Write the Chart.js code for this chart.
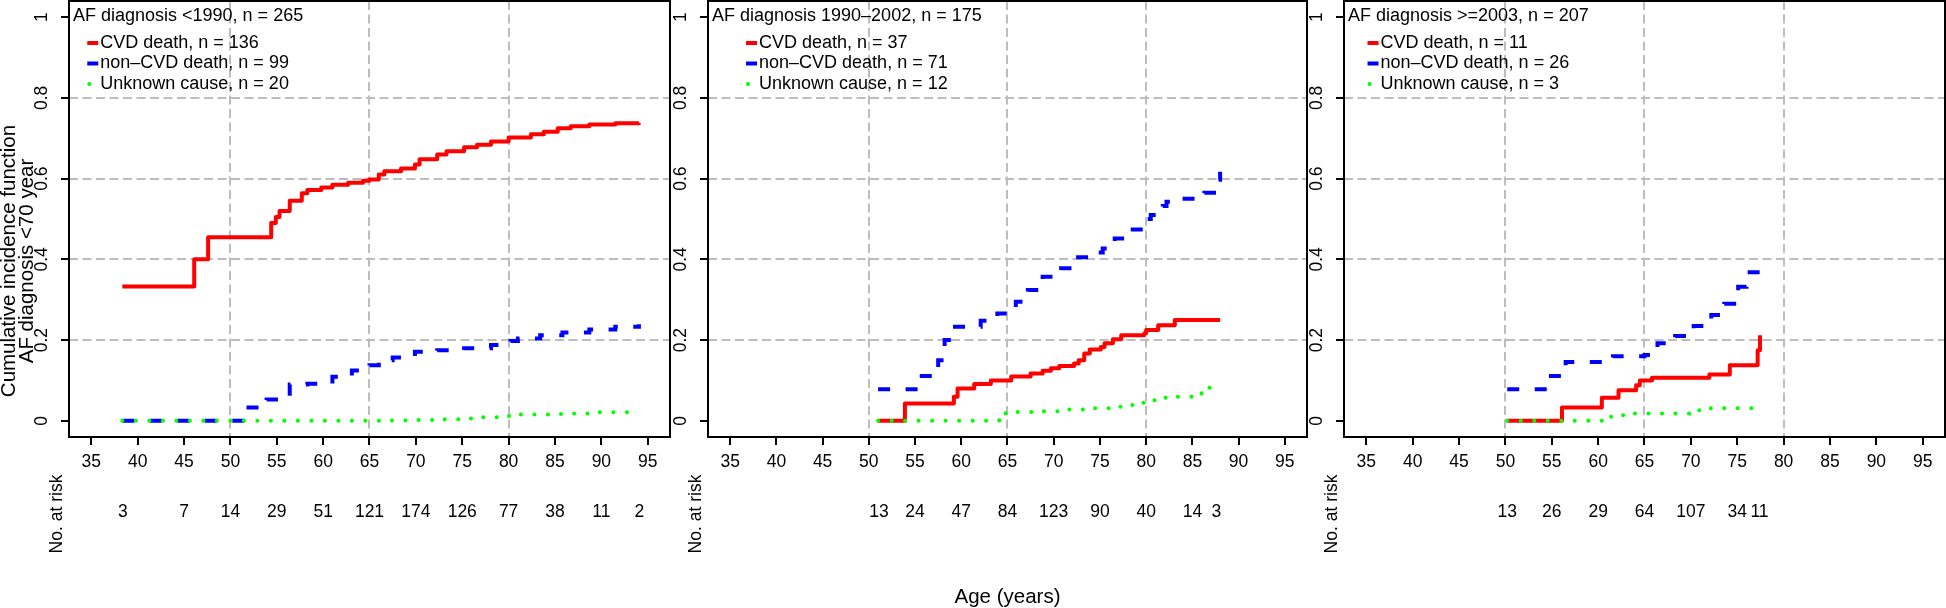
<!DOCTYPE html>
<html>
<head>
<meta charset="utf-8">
<script src="https://cdn.jsdelivr.net/npm/chart.js@4.4.0/dist/chart.umd.min.js"></script>
<style>
  body { margin: 0; background: #fff; width: 1946px; height: 608px; overflow: hidden; position: relative; }
  .panel { position: absolute; top: 0; height: 608px; }
  canvas { display: block; }
</style>
</head>
<body>
<div class="panel" style="left:0px;width:671px"><canvas id="c0" width="671" height="608"></canvas></div>
<div class="panel" style="left:672px;width:636px"><canvas id="c1" width="636" height="608"></canvas></div>
<div class="panel" style="left:1309px;width:637px"><canvas id="c2" width="637" height="608"></canvas></div>
<script>
const FONT = '"Liberation Sans", Arial, Helvetica, sans-serif';
const GRID = '#bdbdbd';

// axes
const xTicks = [35, 40, 45, 50, 55, 60, 65, 70, 75, 80, 85, 90, 95];
const yTicks = [0, 0.2, 0.4, 0.6, 0.8, 1];
const yTickLabels = ['0', '0.2', '0.4', '0.6', '0.8', '1'];
const gridAges = [50, 65, 80];

// texts
const panelTitles = ['AF diagnosis <1990, n = 265', 'AF diagnosis 1990\u20132002, n = 175', 'AF diagnosis >=2003, n = 207'];
const cvdLabels = ['CVD death, n = 136', 'CVD death, n = 37', 'CVD death, n = 11'];
const nonCvdLabels = ['non\u2013CVD death, n = 99', 'non\u2013CVD death, n = 71', 'non\u2013CVD death, n = 26'];
const unknownLabels = ['Unknown cause, n = 20', 'Unknown cause, n = 12', 'Unknown cause, n = 3'];

// panel 1: AF diagnosis <1990
const p1CvdAge = [38.35, 46.1, 47.6, 54.4, 54.9, 55.3, 56.4, 57.7, 58.3, 59.8, 61.0, 62.7, 64.3, 65.0, 66.0, 66.6, 68.4, 69.9, 70.4, 72.3, 73.3, 75.2, 76.6, 78.1, 80.0, 82.4, 83.8, 85.3, 86.7, 88.7, 91.5, 94.05];
const p1Cvd = [0.333, 0.40, 0.455, 0.49, 0.505, 0.52, 0.545, 0.564, 0.572, 0.578, 0.585, 0.59, 0.595, 0.598, 0.61, 0.618, 0.625, 0.635, 0.648, 0.66, 0.668, 0.678, 0.684, 0.692, 0.702, 0.71, 0.716, 0.725, 0.73, 0.734, 0.737, 0.738];
const p1NonAge = [38.35, 51.7, 53.9, 56.4, 58.3, 61.0, 63.1, 65.0, 66.0, 67.5, 69.9, 72.3, 75.2, 78.1, 80.2, 81.0, 83.4, 85.8, 88.7, 91.5, 94.05];
const p1Non = [0, 0.033, 0.053, 0.09, 0.092, 0.109, 0.125, 0.138, 0.15, 0.157, 0.171, 0.175, 0.18, 0.188, 0.198, 0.204, 0.212, 0.219, 0.226, 0.233, 0.239];
const p1UnkAge = [38.35, 65.0, 67.0, 70.0, 72.5, 75.0, 77.0, 79.3, 80.5, 85.0, 87.0, 89.5, 94.05];
const p1Unk = [0, 0, 0.001, 0.002, 0.004, 0.006, 0.009, 0.012, 0.016, 0.017, 0.018, 0.021, 0.021];
const p1RiskAge = [38.4, 45, 50, 55, 60, 65, 70, 75, 80, 85, 90, 94.1];
const p1Risk = [3, 7, 14, 29, 51, 121, 174, 126, 77, 38, 11, 2];

// panel 2: AF diagnosis 1990-2002
const p2CvdAge = [51.0, 53.9, 59.2, 59.6, 61.4, 63.2, 65.4, 67.5, 68.8, 69.7, 70.6, 72.2, 72.7, 73.3, 73.9, 75.1, 75.5, 76.4, 77.3, 79.8, 80.0, 81.3, 83.1, 88.0];
const p2Cvd = [0, 0.043, 0.06, 0.08, 0.091, 0.10, 0.11, 0.117, 0.124, 0.13, 0.136, 0.142, 0.15, 0.167, 0.177, 0.183, 0.192, 0.202, 0.212, 0.217, 0.225, 0.237, 0.25, 0.25];
const p2NonAge = [51.0, 55.3, 57.5, 58.2, 59.0, 62.1, 63.9, 65.2, 65.9, 67.2, 68.8, 70.8, 72.4, 74.8, 75.3, 76.6, 78.2, 80.0, 80.5, 81.8, 82.2, 83.6, 86.3, 87.7, 88.0];
const p2Non = [0.078, 0.111, 0.15, 0.2, 0.233, 0.248, 0.266, 0.274, 0.295, 0.324, 0.357, 0.378, 0.405, 0.417, 0.427, 0.452, 0.474, 0.5, 0.51, 0.532, 0.543, 0.55, 0.565, 0.597, 0.617];
const p2UnkAge = [51.0, 63.0, 64.1, 64.8, 67.9, 70.6, 73.3, 76.0, 77.6, 78.9, 80.0, 81.3, 82.7, 85.2, 86.0, 87.5];
const p2Unk = [0, 0, 0.01, 0.022, 0.024, 0.028, 0.031, 0.035, 0.039, 0.045, 0.051, 0.057, 0.06, 0.068, 0.082, 0.084];
const p2RiskAge = [51.1, 55, 60, 65, 70, 75, 80, 85, 87.6];
const p2Risk = [13, 24, 47, 84, 123, 90, 40, 14, 3];

// panel 3: AF diagnosis >=2003
const p3CvdAge = [50.2, 56.1, 60.4, 62.2, 64.1, 64.5, 65.8, 72.0, 74.2, 77.2, 77.45];
const p3Cvd = [0, 0.033, 0.057, 0.076, 0.088, 0.10, 0.107, 0.115, 0.138, 0.175, 0.212];
const p3NonAge = [50.2, 54.6, 56.5, 61.6, 65.0, 66.4, 68.3, 70.3, 72.2, 73.6, 75.1, 76.0, 77.45];
const p3Non = [0.078, 0.111, 0.146, 0.16, 0.163, 0.192, 0.21, 0.235, 0.262, 0.29, 0.332, 0.368, 0.368];
const p3UnkAge = [50.2, 60.7, 61.4, 62.8, 69.8, 70.9, 77.2];
const p3Unk = [0, 0, 0.014, 0.018, 0.026, 0.031, 0.031];
const p3RiskAge = [50.2, 55, 60, 65, 70, 75, 77.4];
const p3Risk = [13, 26, 29, 64, 107, 34, 11];

const panels = [
  { cvd: [p1CvdAge, p1Cvd], non: [p1NonAge, p1Non], unk: [p1UnkAge, p1Unk], risk: [p1RiskAge, p1Risk], leftSpace: 69 },
  { cvd: [p2CvdAge, p2Cvd], non: [p2NonAge, p2Non], unk: [p2UnkAge, p2Unk], risk: [p2RiskAge, p2Risk], leftSpace: 36 },
  { cvd: [p3CvdAge, p3Cvd], non: [p3NonAge, p3Non], unk: [p3UnkAge, p3Unk], risk: [p3RiskAge, p3Risk], leftSpace: 35 }
];

const pts = (ages, vals) => ages.map((a, i) => ({ x: a, y: vals[i] }));

// box, legend, titles and risk table
const decor = {
  id: 'decor',
  afterDraw(chart, args, opts) {
    const ctx = chart.ctx, a = chart.chartArea, xs = chart.scales.x;
    const i = opts.panel;
    ctx.save();
    ctx.strokeStyle = '#000';
    ctx.lineWidth = 2;
    ctx.strokeRect(a.left, a.top, a.right - a.left, a.bottom - a.top);

    ctx.fillStyle = '#000';
    ctx.textBaseline = 'middle';
    ctx.font = '18px ' + FONT;
    ctx.textAlign = 'left';
    const tx = a.left + 4;
    ctx.fillText(panelTitles[i], tx, 16);

    // legend, centred under the title
    const labels = [cvdLabels[i], nonCvdLabels[i], unknownLabels[i]];
    const tw = ctx.measureText(panelTitles[i]).width;
    const lw = Math.max(...labels.map(l => ctx.measureText(l).width));
    const bx = tx + (tw - (lw + 13)) / 2;
    const rows = [43, 63.5, 84];
    ctx.lineCap = 'butt';
    ctx.lineWidth = 4;
    ctx.strokeStyle = '#ff0000';
    ctx.beginPath(); ctx.moveTo(bx, rows[0]); ctx.lineTo(bx + 11, rows[0]); ctx.stroke();
    ctx.strokeStyle = '#0000ff';
    ctx.beginPath(); ctx.moveTo(bx, rows[1]); ctx.lineTo(bx + 11, rows[1]); ctx.stroke();
    ctx.fillStyle = '#00ff00';
    ctx.beginPath(); ctx.arc(bx + 2, rows[2], 2, 0, Math.PI * 2); ctx.fill();
    ctx.fillStyle = '#000';
    labels.forEach((l, k) => ctx.fillText(l, bx + 13, rows[k]));

    // numbers at risk
    ctx.font = '17.5px ' + FONT;
    ctx.textAlign = 'center';
    const [rAge, rN] = panels[i].risk;
    rAge.forEach((ag, k) => ctx.fillText(String(rN[k]), xs.getPixelForValue(ag), 512));

    ctx.save();
    ctx.translate(a.left - 12, 514);
    ctx.rotate(-Math.PI / 2);
    ctx.fillText('No. at risk', 0, 0);
    ctx.restore();

    ctx.font = '20.5px ' + FONT;
    if (i === 0) {
      ctx.save();
      ctx.translate(9, 261);
      ctx.rotate(-Math.PI / 2);
      ctx.fillText('Cumulative incidence function', 0, 0);
      ctx.restore();
      ctx.save();
      ctx.translate(27, 261);
      ctx.rotate(-Math.PI / 2);
      ctx.fillText('AF diagnosis <70 year', 0, 0);
      ctx.restore();
    }
    if (i === 1) {
      ctx.fillText('Age (years)', (a.left + a.right) / 2, 597);
    }
    ctx.restore();
  }
};

panels.forEach((p, i) => {
  new Chart(document.getElementById('c' + i), {
    type: 'line',
    data: {
      datasets: [
        { data: pts(...p.cvd), borderColor: '#ff0000', borderWidth: 4, stepped: 'before', pointRadius: 0, fill: false, borderJoinStyle: 'round', order: 3 },
        { data: pts(...p.non), borderColor: '#0000ff', borderWidth: 4, stepped: 'before', pointRadius: 0, fill: false, borderDash: [12, 15.5], borderCapStyle: 'butt', order: 2 },
        { data: pts(...p.unk), borderColor: '#00ff00', borderWidth: 4, stepped: 'before', pointRadius: 0, fill: false, borderDash: [0.1, 13.4], borderCapStyle: 'round', order: 1 }
      ]
    },
    options: {
      responsive: false,
      animation: false,
      events: [],
      layout: { padding: { top: 1, right: 1, left: 0, bottom: 0 } },
      plugins: { legend: { display: false }, tooltip: { enabled: false }, decor: { panel: i } },
      scales: {
        x: {
          type: 'linear', min: 32.6, max: 97.4,
          afterBuildTicks: s => { s.ticks = xTicks.map(v => ({ value: v })); },
          afterFit: s => { s.height = 171; s.paddingLeft = 0; s.paddingRight = 0; },
          grid: {
            color: c => gridAges.includes(c.tick && c.tick.value) ? GRID : 'rgba(0,0,0,0)',
            lineWidth: 2, tickColor: '#000', tickWidth: 2, tickLength: 8
          },
          border: { display: false, dash: [9, 4.5] },
          ticks: { color: '#000', font: { family: FONT, size: 17.5 }, padding: 6.5, minRotation: 0, maxRotation: 0, autoSkip: false, callback: v => String(v) }
        },
        y: {
          min: -0.04, max: 1.04,
          afterBuildTicks: s => { s.ticks = yTicks.map(v => ({ value: v })); },
          afterFit: s => { s.width = p.leftSpace; s.paddingTop = 0; s.paddingBottom = 0; },
          grid: {
            color: c => (c.tick && c.tick.value > 0.01 && c.tick.value < 0.99) ? GRID : 'rgba(0,0,0,0)',
            lineWidth: 2, tickColor: '#000', tickWidth: 2, tickLength: 8
          },
          border: { display: false, dash: [9, 4.5] },
          ticks: { color: '#000', font: { family: FONT, size: 17.5 }, padding: 7, minRotation: 90, maxRotation: 90, crossAlign: 'center', callback: (v, k) => yTickLabels[k] }
        }
      }
    },
    plugins: [decor]
  });
});
</script>
</body>
</html>
